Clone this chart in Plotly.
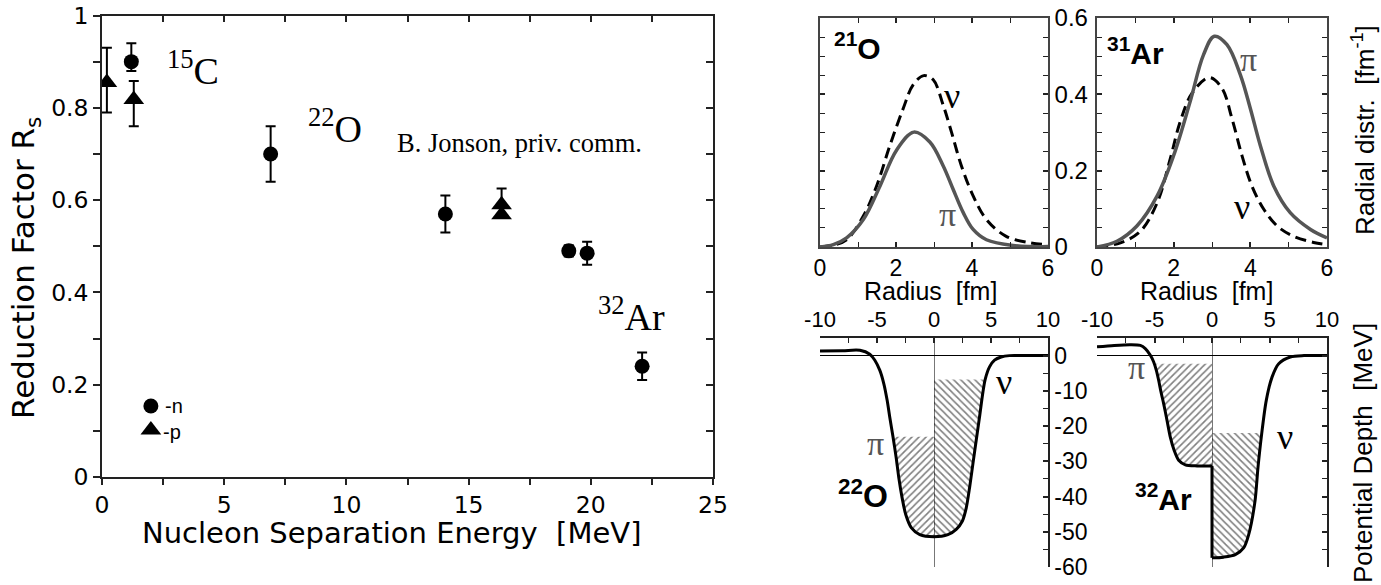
import numpy as np
import plotly.graph_objects as go

W, H = 1381, 585

# ---------------- main panel data (reduction factor) ----------------
n_sep = [1.2, 6.9, 14.05, 19.1, 19.85, 22.1]
n_rs = [0.90, 0.70, 0.57, 0.49, 0.485, 0.24]
n_err_up = [0.04, 0.06, 0.04, 0.012, 0.025, 0.03]
n_err_dn = [0.02, 0.06, 0.04, 0.012, 0.025, 0.03]

p_sep = [0.2, 1.3, 16.35, 16.35]
p_rs = [0.855, 0.818, 0.59, 0.568]
p_err_up = [0.075, 0.04, 0.035, 0.0]
p_err_dn = [0.065, 0.058, 0.0, 0.0]

legend_sep = [2.0]
legend_n_rs = [0.154]
legend_p_rs = [0.102]
legend_labels = ["-n", "-p"]

# ---------------- radial distributions ----------------
r_21O_pi = [0, 0.35, 0.70, 1.14, 1.58, 2.01, 2.47, 2.89, 3.24, 3.50, 3.77, 4.03, 4.38, 5.08, 6.0]
d_21O_pi = [0, 0.006, 0.024, 0.072, 0.160, 0.253, 0.301, 0.275, 0.213, 0.152, 0.090, 0.046, 0.019, 0.004, 0.001]
r_21O_nu = [0, 0.35, 0.70, 1.14, 1.49, 1.84, 2.19, 2.45, 2.73, 2.98, 3.24, 3.46, 3.72, 4.03, 4.38, 4.90, 5.52, 6.0]
d_21O_nu = [0, 0.005, 0.019, 0.081, 0.160, 0.266, 0.363, 0.425, 0.449, 0.438, 0.372, 0.301, 0.213, 0.134, 0.072, 0.028, 0.011, 0.006]

r_31Ar_pi = [0, 0.52, 1.04, 1.57, 2.0, 2.43, 2.78, 3.06, 3.39, 3.74, 4.0, 4.26, 4.61, 5.04, 5.57, 6.0]
d_31Ar_pi = [0, 0.015, 0.055, 0.134, 0.240, 0.381, 0.504, 0.552, 0.530, 0.451, 0.363, 0.266, 0.160, 0.090, 0.046, 0.024]
r_31Ar_nu = [0, 0.61, 1.13, 1.57, 1.91, 2.17, 2.48, 2.93, 3.26, 3.52, 3.78, 4.04, 4.35, 4.70, 5.13, 5.65, 6.0]
d_31Ar_nu = [0, 0.011, 0.041, 0.116, 0.231, 0.328, 0.403, 0.444, 0.416, 0.337, 0.240, 0.160, 0.099, 0.055, 0.028, 0.012, 0.006]

# ---------------- potentials ----------------
x_22O = [-10, -8, -6.5, -5.63, -5.19, -4.75, -4.4, -4.11, -3.88, -3.59, -3.32, -3.09, -2.8, -2.48, -1.98,
         -1.25, 0, 1.22, 1.95, 2.48, 2.83, 3.12, 3.41, 3.70, 3.99, 4.29, 4.49, 4.87, 5.31, 5.89, 6.62, 8, 10]
V_22O = [1.3, 1.4, 1.5, 0.4, -1.3, -4.2, -8.0, -12.7, -17.5, -23.2, -28.9, -34.6, -40.3, -45.1, -48.9,
         -50.8, -51.4, -50.8, -49.3, -47.0, -43.2, -37.5, -30.8, -24.1, -17.5, -10.4, -6.75, -3.2, -1.3, -0.4, 0.0, 0.0, 0.0]
EF_22O_pi = -23.0
EF_22O_nu = -6.75

x_32Ar_pi = [-10, -8.5, -7.1, -6.23, -5.8, -5.36, -5.07, -4.84, -4.64, -4.43, -4.2, -3.91, -3.62, -3.28,
             -2.9, -2.32, -1.3, 0]
V_32Ar_pi = [2.5, 2.9, 3.1, 2.9, 2.0, 0.1, -1.8, -4.2, -7.0, -10.4, -13.7, -18.4, -23.2, -27.0,
             -29.7, -31.0, -31.3, -31.3]
x_32Ar_nu = [0, 1.0, 2.03, 2.75, 3.19, 3.74, 4.0, 4.32, 4.72, 5.22, 5.80, 6.81, 8.0, 10]
V_32Ar_nu = [-57.4, -57.2, -56.5, -54.6, -50.8, -41.3, -31.7, -22.2, -12.7, -6.1, -2.3, -0.4, 0.0, 0.0]
EF_32Ar_pi = -2.3
EF_32Ar_nu = -22.0

pot_tickvals = [-60, -50, -40, -30, -20, -10, 0]
pot_ticktext = ["-60", "-50", "-40", "-30", "-20", "-10", "0"]
rad_tickvals = [-10, -5, 0, 5, 10]
rad_ticktext = ["-10", "-5", "0", "5", "10"]

GRAY = "#555555"
SANS = "Liberation Sans, Arial, sans-serif"
WIDE = "DejaVu Sans, sans-serif"
SERIF = "Liberation Serif, Times New Roman, serif"


def pxx(p):
    return p / W


def pxy(p):
    return 1 - p / H


def well_polygon(xs, vs, ef, sign):
    pts = sorted([(x, v) for x, v in zip(xs, vs) if sign * x >= 0], key=lambda p: abs(p[0]))
    inner = [pts[0]]
    for (x0, v0), (x1, v1) in zip(pts[:-1], pts[1:]):
        if v1 < ef:
            inner.append((x1, v1))
        else:
            t = (ef - v0) / (v1 - v0)
            inner.append((x0 + t * (x1 - x0), ef))
            break
    poly = [(0.0, ef)] + inner + [(0.0, ef)]
    return [p[0] for p in poly], [p[1] for p in poly]


fig = go.Figure()

# ---------------- main panel ----------------
fig.add_trace(go.Scatter(
    x=n_sep, y=n_rs, mode="markers", xaxis="x", yaxis="y", showlegend=False,
    marker=dict(symbol="circle", size=15, color="black"),
    error_y=dict(type="data", symmetric=False, array=n_err_up, arrayminus=n_err_dn,
                 color="black", thickness=2, width=5)))
fig.add_trace(go.Scatter(
    x=p_sep, y=p_rs, mode="markers", xaxis="x", yaxis="y", showlegend=False,
    marker=dict(symbol="triangle-up", size=18, color="black"),
    error_y=dict(type="data", symmetric=False, array=p_err_up, arrayminus=p_err_dn,
                 color="black", thickness=2, width=5)))
fig.add_trace(go.Scatter(x=legend_sep, y=legend_n_rs, mode="markers", xaxis="x", yaxis="y",
                         showlegend=False, marker=dict(symbol="circle", size=15, color="black")))
fig.add_trace(go.Scatter(x=legend_sep, y=legend_p_rs, mode="markers", xaxis="x", yaxis="y",
                         showlegend=False, marker=dict(symbol="triangle-up", size=18, color="black")))
fig.add_trace(go.Scatter(x=[None], y=[None], xaxis="x6", yaxis="y6", showlegend=False, hoverinfo="skip"))

# ---------------- radial distributions ----------------
fig.add_trace(go.Scatter(x=r_21O_nu, y=d_21O_nu, mode="lines", xaxis="x2", yaxis="y2", showlegend=False,
                         line=dict(color="black", width=3, dash="11px,6px", shape="spline", smoothing=1)))
fig.add_trace(go.Scatter(x=r_21O_pi, y=d_21O_pi, mode="lines", xaxis="x2", yaxis="y2", showlegend=False,
                         line=dict(color=GRAY, width=3.5, shape="spline", smoothing=1)))
fig.add_trace(go.Scatter(x=r_31Ar_nu, y=d_31Ar_nu, mode="lines", xaxis="x3", yaxis="y3", showlegend=False,
                         line=dict(color="black", width=3, dash="11px,6px", shape="spline", smoothing=1)))
fig.add_trace(go.Scatter(x=r_31Ar_pi, y=d_31Ar_pi, mode="lines", xaxis="x3", yaxis="y3", showlegend=False,
                         line=dict(color=GRAY, width=3.5, shape="spline", smoothing=1)))


# ---------------- potentials ----------------
def add_hatch(xs, vs, ef, sign, shape, xa, ya):
    px_, py_ = well_polygon(xs, vs, ef, sign)
    fig.add_trace(go.Scatter(
        x=px_, y=py_, mode="lines", fill="toself", xaxis=xa, yaxis=ya, showlegend=False,
        line=dict(width=0, color="rgba(0,0,0,0)"), fillcolor="rgba(255,255,255,0)",
        fillpattern=dict(shape=shape, fgcolor="black", bgcolor="rgba(255,255,255,0)",
                         size=5, solidity=0.32), hoverinfo="skip"))


add_hatch(x_22O, V_22O, EF_22O_pi, -1, "/", "x4", "y4")
add_hatch(x_22O, V_22O, EF_22O_nu, 1, "\\", "x4", "y4")
fig.add_trace(go.Scatter(x=x_22O, y=V_22O, mode="lines", xaxis="x4", yaxis="y4", showlegend=False,
                         line=dict(color="black", width=3, shape="spline", smoothing=0.8)))

add_hatch(x_32Ar_pi, V_32Ar_pi, EF_32Ar_pi, -1, "/", "x5", "y5")
add_hatch(x_32Ar_nu, V_32Ar_nu, EF_32Ar_nu, 1, "\\", "x5", "y5")
fig.add_trace(go.Scatter(x=x_32Ar_pi, y=V_32Ar_pi, mode="lines", xaxis="x5", yaxis="y5", showlegend=False,
                         line=dict(color="black", width=3, shape="spline", smoothing=0.8)))
fig.add_trace(go.Scatter(x=[x_32Ar_pi[-1], x_32Ar_nu[0]], y=[V_32Ar_pi[-1], V_32Ar_nu[0]], mode="lines",
                         xaxis="x5", yaxis="y5", showlegend=False, line=dict(color="black", width=3)))
fig.add_trace(go.Scatter(x=x_32Ar_nu, y=V_32Ar_nu, mode="lines", xaxis="x5", yaxis="y5", showlegend=False,
                         line=dict(color="black", width=3, shape="spline", smoothing=0.8)))

# ---------------- axes ----------------
LC = "#222222"


def ax(**kw):
    base = dict(showgrid=False, zeroline=False, showline=True, linecolor=LC, linewidth=1.5,
                tickcolor=LC, tickwidth=1.5, fixedrange=True, automargin=False,
                ticklabeloverflow="allow")
    base.update(kw)
    return base


main_x = [pxx(102), pxx(713)]
main_y = [pxy(477), pxy(15.5)]
tl_x = [pxx(820), pxx(1048)]
tr_x = [pxx(1097), pxx(1327)]
top_y = [pxy(247), pxy(18)]
bot_y = [pxy(567), pxy(338)]

tf_main = dict(family=WIDE, size=23.5, color="black")
tf_r = dict(family=SANS, size=24, color="black")
tf_rx = dict(family=SANS, size=23, color="black")

fig.update_layout(
    width=W, height=H, margin=dict(l=0, r=0, t=0, b=0, pad=0, autoexpand=False),
    paper_bgcolor="white", plot_bgcolor="rgba(0,0,0,0)", showlegend=False,
    xaxis=ax(domain=main_x, anchor="y", range=[0, 25], dtick=5, tick0=0, ticks="outside", ticklen=6,
             minor=dict(dtick=2.5, ticks="outside", ticklen=6, tickwidth=1.5, tickcolor=LC),
             tickfont=tf_main, ticklabelstandoff=0),
    yaxis=ax(domain=main_y, anchor="x", range=[0, 1], dtick=0.2, tick0=0, ticks="outside", ticklen=7,
             minor=dict(dtick=0.1, ticks="outside", ticklen=7, tickwidth=1.5, tickcolor=LC),
             tickfont=tf_main),
    xaxis6=ax(overlaying="x", anchor="y6", side="top", range=[0, 25], dtick=5, ticks="inside", ticklen=7,
              minor=dict(dtick=2.5, ticks="inside", ticklen=7, tickwidth=1.5, tickcolor=LC),
              showticklabels=False),
    yaxis6=ax(overlaying="y", anchor="x6", side="right", range=[0, 1], dtick=0.2, ticks="inside", ticklen=7,
              minor=dict(dtick=0.1, ticks="inside", ticklen=7, tickwidth=1.5, tickcolor=LC),
              showticklabels=False),
    xaxis2=ax(domain=tl_x, anchor="y2", range=[0, 6], dtick=2, ticks="inside", ticklen=5, mirror="ticks",
              minor=dict(dtick=1, ticks="inside", ticklen=5, tickwidth=1.2, tickcolor=LC),
              tickfont=tf_rx, linecolor="#444", ticklabelstandoff=0),
    yaxis2=ax(domain=top_y, anchor="x2", side="right", range=[0, 0.6], dtick=0.2, ticks="inside", ticklen=5,
              mirror="ticks", minor=dict(dtick=0.05, ticks="inside", ticklen=5, tickwidth=1.2, tickcolor=LC),
              tickfont=tf_r, linecolor="#444"),
    xaxis3=ax(domain=tr_x, anchor="y3", range=[0, 6], dtick=2, ticks="inside", ticklen=5, mirror="ticks",
              minor=dict(dtick=1, ticks="inside", ticklen=5, tickwidth=1.2, tickcolor=LC),
              tickfont=tf_rx, linecolor="#444", ticklabelstandoff=0),
    yaxis3=ax(domain=top_y, anchor="x3", side="right", range=[0, 0.6], dtick=0.2, ticks="inside", ticklen=5,
              mirror="ticks", minor=dict(dtick=0.05, ticks="inside", ticklen=5, tickwidth=1.2, tickcolor=LC),
              showticklabels=False, linecolor="#444"),
    xaxis4=ax(domain=tl_x, anchor="y4", side="top", range=[-10, 10], tickvals=rad_tickvals,
              ticktext=rad_ticktext, ticks="inside", ticklen=5,
              minor=dict(dtick=2.5, ticks="inside", ticklen=5, tickwidth=1.2, tickcolor=LC),
              tickfont=dict(family=SANS, size=22, color="black"),
              zeroline=True, zerolinecolor="#777777", zerolinewidth=1),
    yaxis4=ax(domain=bot_y, anchor="x4", side="right", range=[-60, 5], tickvals=pot_tickvals,
              ticktext=pot_ticktext, ticks="inside", ticklen=5,
              minor=dict(dtick=5, ticks="inside", ticklen=5, tickwidth=1.2, tickcolor=LC),
              tickfont=dict(family=SANS, size=23, color="black"),
              zeroline=True, zerolinecolor="black", zerolinewidth=1),
    xaxis5=ax(domain=tr_x, anchor="y5", side="top", range=[-10, 10], tickvals=rad_tickvals,
              ticktext=rad_ticktext, ticks="inside", ticklen=5,
              minor=dict(dtick=2.5, ticks="inside", ticklen=5, tickwidth=1.2, tickcolor=LC),
              tickfont=dict(family=SANS, size=22, color="black"),
              zeroline=True, zerolinecolor="#777777", zerolinewidth=1),
    yaxis5=ax(domain=bot_y, anchor="x5", side="right", range=[-60, 5], tickvals=pot_tickvals,
              ticks="inside", ticklen=5,
              minor=dict(dtick=5, ticks="inside", ticklen=5, tickwidth=1.2, tickcolor=LC),
              showticklabels=False, zeroline=True, zerolinecolor="black", zerolinewidth=1),
)


def ann(text, x, y, size, family=SANS, color="black", angle=0, xanchor="center", yanchor="middle"):
    fig.add_annotation(text=text, x=pxx(x), y=pxy(y), xref="paper", yref="paper", showarrow=False,
                       textangle=angle, xanchor=xanchor, yanchor=yanchor,
                       font=dict(family=family, size=size, color=color))


# main panel texts
ann("Reduction Factor R<sub>s</sub>", 26, 268, 31, family=WIDE, angle=-90)
ann("Nucleon Separation Energy  [MeV]", 391, 533, 29, family=WIDE)
ann("<sup>15</sup>C", 193, 68, 38, family=SERIF)
ann("<sup>22</sup>O", 335, 126, 38, family=SERIF)
ann("B. Jonson, priv. comm.", 519, 143, 26.5, family=SERIF)
ann("<sup>32</sup>Ar", 631, 314, 38, family=SERIF)
ann(legend_labels[0], 163, 406, 20, family=SANS, xanchor="left")
ann(legend_labels[1], 161, 432, 20, family=SANS, xanchor="left")

# radial panels
ann("Radius  [fm]", 930, 291, 25)
ann("Radius  [fm]", 1206, 291, 25)
ann("Radial distr.  [fm<sup>-1</sup>]", 1363, 130, 26, angle=-90)
ann("Potential Depth  [MeV]", 1363, 453, 26, angle=-90)
ann("<b><sup>21</sup>O</b>", 857, 46, 30)
ann("<b><sup>31</sup>Ar</b>", 1135, 51, 30)
ann("ν", 952, 96, 36, family=SERIF)
ann("π", 947, 214, 34, family=SERIF, color=GRAY)
ann("π", 1248, 60, 34, family=SERIF, color=GRAY)
ann("ν", 1242, 207, 36, family=SERIF)

# potential panels
ann("<b><sup>22</sup>O</b>", 863, 494, 32)
ann("<b><sup>32</sup>Ar</b>", 1163, 497, 30)
ann("π", 875, 443, 34, family=SERIF, color=GRAY)
ann("ν", 1004, 382, 36, family=SERIF)
ann("π", 1136, 367, 34, family=SERIF, color=GRAY)
ann("ν", 1285, 437, 36, family=SERIF)

fig.write_html("out.html", config={"displayModeBar": False},
               post_script="document.body.style.margin='0px';")
